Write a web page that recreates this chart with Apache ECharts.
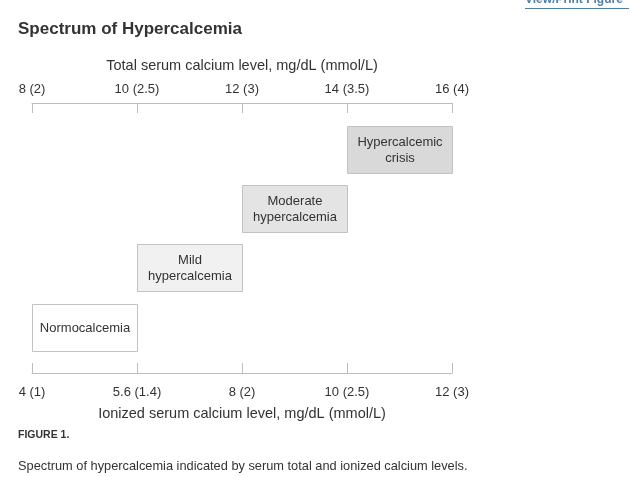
<!DOCTYPE html>
<html>
<head>
<meta charset="utf-8">
<style>
  html, body { margin: 0; padding: 0; background: #fff; }
  #chart { width: 640px; height: 477px; }
</style>
<script src="https://cdn.jsdelivr.net/npm/echarts@6/dist/echarts.min.js"></script>
</head>
<body>
<div id="chart"></div>
<script>
// ---- data ----
const categories = ['Normocalcemia', 'Mild\nhypercalcemia', 'Moderate\nhypercalcemia', 'Hypercalcemic\ncrisis'];
const rangeStart = [8, 10, 12, 14];
const rangeEnd = [10, 12, 14, 16];
const rowIndex = [0, 1, 2, 3];
const boxFills = ['#ffffff', '#f1f1f1', '#e4e4e4', '#d9d9d9'];
const totalTickValues = [8, 10, 12, 14, 16];
const totalTickLabels = ['8 (2)', '10 (2.5)', '12 (3)', '14 (3.5)', '16 (4)'];
const ionizedTickLabels = ['4 (1)', '5.6 (1.4)', '8 (2)', '10 (2.5)', '12 (3)'];

const FONT = '"Liberation Sans", Arial, Helvetica, sans-serif';
const seriesData = categories.map((c, i) => [rangeStart[i], rangeEnd[i], rowIndex[i], c, boxFills[i]]);

const chart = echarts.init(document.getElementById('chart'), null, { renderer: 'canvas' });
const axisLine = { show: true, onZero: false, lineStyle: { color: '#bdbdbd', width: 1 } };
chart.setOption({
  animation: false,
  backgroundColor: '#ffffff',
  grid: { left: 32, right: 188, top: 103, bottom: 104, containLabel: false },
  xAxis: [
    {
      type: 'value', position: 'top', min: 8, max: 16, interval: 2,
      name: 'Total serum calcium level, mg/dL (mmol/L)',
      nameLocation: 'middle', nameGap: 30,
      nameTextStyle: { color: '#333', fontSize: 14.5, fontFamily: FONT },
      axisLine: axisLine,
      axisTick: { show: true, inside: true, length: 10, lineStyle: { color: '#bdbdbd' } },
      axisLabel: { color: '#333', fontSize: 13, fontFamily: FONT, margin: 7,
        formatter: v => totalTickLabels[totalTickValues.indexOf(v)] },
      splitLine: { show: false }
    },
    {
      type: 'value', position: 'bottom', min: 0, max: 4, interval: 1,
      name: 'Ionized serum calcium level, mg/dL (mmol/L)',
      nameLocation: 'middle', nameGap: 33,
      nameTextStyle: { color: '#333', fontSize: 14.5, fontFamily: FONT },
      axisLine: axisLine,
      axisTick: { show: true, inside: true, length: 10, lineStyle: { color: '#bdbdbd' } },
      axisLabel: { color: '#333', fontSize: 13, fontFamily: FONT, margin: 13,
        formatter: v => ionizedTickLabels[v] },
      splitLine: { show: false }
    }
  ],
  yAxis: {
    type: 'value', min: -0.77, max: 3.78, show: false, splitLine: { show: false }
  },
  graphic: [
    { type: 'text', left: 18, top: 21, style: { text: 'Spectrum of Hypercalcemia', fill: '#333', font: 'bold 17px ' + FONT } },
    { type: 'text', left: 525, top: -6, style: { text: 'View/Print Figure', fill: '#4f7ea3', font: 'bold 12px ' + FONT } },
    { type: 'line', shape: { x1: 525, y1: 8.5, x2: 629, y2: 8.5 }, style: { stroke: '#4f7ea3', lineWidth: 1 } },
    { type: 'text', left: 18, top: 430, style: { text: 'FIGURE 1.', fill: '#333', font: 'bold 10.5px ' + FONT } },
    { type: 'text', left: 18, top: 460, style: { text: 'Spectrum of hypercalcemia indicated by serum total and ionized calcium levels.', fill: '#333', font: '12.8px ' + FONT } }
  ],
  series: [{
    type: 'custom',
    xAxisIndex: 0,
    yAxisIndex: 0,
    data: seriesData,
    renderItem: function (params, api) {
      const p0 = api.coord([api.value(0), api.value(2)]);
      const p1 = api.coord([api.value(1), api.value(2)]);
      const h = 47;
      const d = seriesData[params.dataIndex];
      return {
        type: 'rect',
        shape: { x: Math.round(p0[0]) + 0.5, y: Math.round(p0[1] - h / 2) + 0.5, width: Math.round(p1[0] - p0[0]), height: h },
        style: { fill: d[4], stroke: '#c2c2c2', lineWidth: 1 },
        textContent: {
          style: { text: d[3], fill: '#333', font: '13px ' + FONT, align: 'center', verticalAlign: 'middle', lineHeight: 16 }
        },
        textConfig: { position: 'inside' }
      };
    }
  }]
});
</script>
</body>
</html>
